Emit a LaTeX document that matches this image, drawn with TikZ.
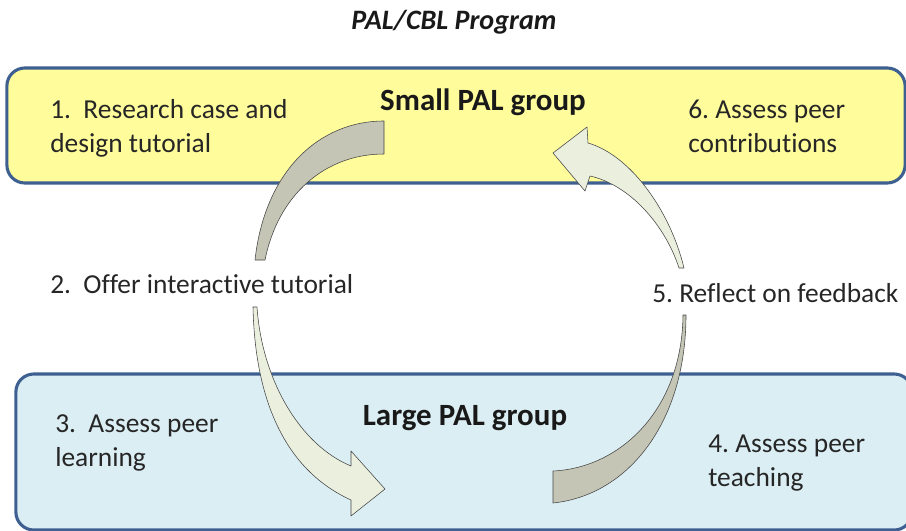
\documentclass[tikz,border=0pt]{standalone}
\usepackage{fontspec}
\setmainfont{Carlito}[Ligatures=NoCommon]
\usepackage{tikz}
\frenchspacing

\definecolor{boxblue}{RGB}{62,96,145}
\definecolor{smallfill}{RGB}{255,252,155}
\definecolor{largefill}{RGB}{219,238,243}
\definecolor{darkribbon}{RGB}{196,197,180}
\definecolor{lightribbon}{RGB}{235,239,222}
\definecolor{ribbonline}{RGB}{70,70,70}

\begin{document}
\begin{tikzpicture}[
        x=0.025cm, y=-0.025cm,
        groupbox/.style={
            % The shape
            rectangle,
            rounded corners=0.45cm,
            % The border
            line width=2.2pt,
            draw = boxblue,
            % No text inside
            inner sep=0pt
        },
        heading/.style={
            % The color
            color = black!90,
            % Font
            font = \fontsize{22}{26}\selectfont\bfseries
        },
        stepnote/.style={
            % The color
            color = black!85,
            % Font
            font = \fontsize{19.5}{24.2}\selectfont,
            align = left,
            inner sep = 0pt
        },
        ribbon/.style={
            % The border
            thin,
            draw = ribbonline,
            line join = round
        },
    ]
        \useasboundingbox (0,0) rectangle (906,531);

        \node (title) [heading,font=\fontsize{20}{24}\selectfont\bfseries\itshape,anchor=base] at (454,30) {PAL/CBL Program};

        \node (smallbox) [groupbox,fill=smallfill,minimum width=22.45cm,minimum height=2.875cm] at (456,125.5) {};
        \node (largebox) [groupbox,fill=largefill,minimum width=22.4cm,minimum height=3.9cm] at (464,452) {};

        \node (smallPAL) [heading,anchor=base] at (483,111) {Small PAL group};
        \node (largePAL) [heading,anchor=base] at (465,425) {Large PAL group};

        \node (research) [stepnote,anchor=west] at (50,128) {1.\ \ Research case and \\ design tutorial};
        \node (offer) [stepnote,anchor=base west] at (50,293) {2.\ \ Offer interactive tutorial};
        \node (peerLearning) [stepnote,anchor=west] at (55,443) {3.\ \ Assess peer \\ learning};
        \node (peerTeaching) [stepnote,anchor=west] at (708,463) {4. Assess peer \\ teaching};
        \node (reflect) [stepnote,anchor=base west] at (652,302) {5. Reflect on feedback};
        \node (peerContrib) [stepnote,anchor=west] at (688,126) {6. Assess peer \\ contributions};

        % offer -> small group
        \path[ribbon,fill=darkribbon] (255,260) .. controls (265,170) and (320,121) .. (384,121)
            -- (384,154) .. controls (325,154) and (278,195) .. (265,260) -- cycle;
        % offer -> large group
        \path[ribbon,fill=lightribbon] (253,307) .. controls (255,400) and (285,470) .. (351,500)
            -- (351,516) -- (385,489) -- (351,451) -- (351,466)
            .. controls (300,445) and (262,380) .. (257,307) -- cycle;
        % large group -> reflect
        \path[ribbon,fill=darkribbon] (686,315) .. controls (686,420) and (630,495) .. (553,503)
            -- (553,471) .. controls (620,468) and (682,410) .. (683,315) -- cycle;
        % reflect -> small group
        \path[ribbon,fill=lightribbon] (684,268) .. controls (670,210) and (630,155) .. (588,143)
            -- (587,127) -- (553,153) -- (585,191) -- (590,176)
            .. controls (630,185) and (665,225) .. (679,268) -- cycle;

    \end{tikzpicture}
\end{document}
